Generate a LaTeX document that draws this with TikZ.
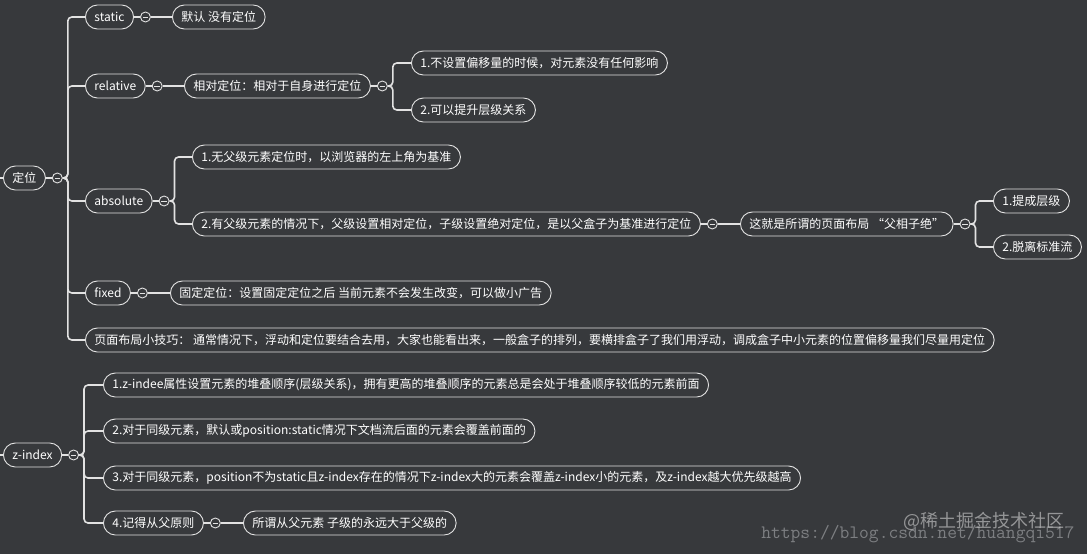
\documentclass[tikz,border=0pt]{standalone}
\usepackage{fontspec}
\setmainfont{Noto Sans CJK SC}
\usetikzlibrary{positioning}

\definecolor{bgdark}{RGB}{55,57,60}
\definecolor{linegrey}{RGB}{226,226,226}
\definecolor{wmgrey}{RGB}{125,127,130}

\tikzset{
  topic/.style={draw=linegrey, line width=0.9pt, rounded corners=12pt,
    minimum height=24pt, inner xsep=9pt, inner ysep=0pt, text=white,
    font=\fontsize{12}{14}\selectfont, anchor=west},
  tog/.style={draw=linegrey, line width=0.9pt, circle, minimum size=10pt,
    inner sep=0pt, path picture={\draw[linegrey, line width=0.9pt]
      ([xshift=2.3pt]path picture bounding box.west) --
      ([xshift=-2.3pt]path picture bounding box.east);}},
  conn/.style={draw=linegrey, line width=1.6pt, rounded corners=4pt},
}

\begin{document}
\begin{tikzpicture}[x=1pt, y=-1pt]
    % background and page size
    \fill[bgdark] (0,0) rectangle (1087,554);
    \useasboundingbox (0,0) rectangle (1087,554);

    % root: positioning
    \node[topic] (dw) at (3,178) {定位};
    \node[tog, right=6pt of dw] (tdw) {};
    \coordinate (dwin) at (0,178);
    \draw[conn] (dwin) -- (dw.west);
    \draw[conn] (dw.east) -- (tdw.west);

    % first level
    \node[topic] (st) at (85,17) {static};
    \node[topic] (rel) at (85,86) {relative};
    \node[topic] (abs) at (85,201) {absolute};
    \node[topic] (fix) at (85,293) {fixed};
    \node[topic] (tip) at (85,340) {页面布局小技巧： 通常情况下，浮动和定位要结合去用，大家也能看出来，一般盒子的排列，要横排盒子了我们用浮动，调成盒子中小元素的位置偏移量我们尽量用定位};
    \foreach \k in {st,rel,abs,fix,tip}
        \draw[conn] (tdw.east) -- ++(5,0) |- (\k.west);

    % static
    \node[tog, right=6pt of st] (tst) {};
    \node[topic] (stdef) at (172,17) {默认 没有定位};
    \draw[conn] (st.east) -- (tst.west);
    \draw[conn] (tst.east) -- (stdef.west);

    % relative
    \node[tog, right=6pt of rel] (trel) {};
    \node[topic] (relm) at (184,86) {相对定位：相对于自身进行定位};
    \draw[conn] (rel.east) -- (trel.west);
    \draw[conn] (trel.east) -- (relm.west);
    \node[tog, right=6pt of relm] (trelm) {};
    \draw[conn] (relm.east) -- (trelm.west);
    \node[topic] (relA) at (411,63) {1.不设置偏移量的时候，对元素没有任何影响};
    \node[topic] (relB) at (411,110) {2.可以提升层级关系};
    \foreach \k in {relA,relB}
        \draw[conn] (trelm.east) -- ++(5,0) |- (\k.west);

    % absolute
    \node[tog, right=6pt of abs] (tabs) {};
    \draw[conn] (abs.east) -- (tabs.west);
    \node[topic] (absA) at (192,157) {1.无父级元素定位时，以浏览器的左上角为基准};
    \node[topic] (absB) at (192,224) {2.有父级元素的情况下，父级设置相对定位，子级设置绝对定位，是以父盒子为基准进行定位};
    \foreach \k in {absA,absB}
        \draw[conn] (tabs.east) -- ++(5,0) |- (\k.west);
    \node[tog, right=6pt of absB] (tabsB) {};
    \draw[conn] (absB.east) -- (tabsB.west);
    \node[topic] (fxz) at (740,224) {这就是所谓的页面布局 “父相子绝”};
    \draw[conn] (tabsB.east) -- (fxz.west);
    \node[tog, right=6pt of fxz] (tfxz) {};
    \draw[conn] (fxz.east) -- (tfxz.west);
    \node[topic] (fxzA) at (993,201) {1.提成层级};
    \node[topic] (fxzB) at (993,247) {2.脱离标准流};
    \foreach \k in {fxzA,fxzB}
        \draw[conn] (tfxz.east) -- ++(5,0) |- (\k.west);

    % fixed
    \node[tog, right=6pt of fix] (tfix) {};
    \node[topic] (fixm) at (170,293) {固定定位：设置固定定位之后 当前元素不会发生改变，可以做小广告};
    \draw[conn] (fix.east) -- (tfix.west);
    \draw[conn] (tfix.east) -- (fixm.west);

    % root: z-index
    \node[topic] (zi) at (3,455) {z-index};
    \node[tog, right=6pt of zi] (tzi) {};
    \coordinate (ziin) at (0,455);
    \draw[conn] (ziin) -- (zi.west);
    \draw[conn] (zi.east) -- (tzi.west);
    \node[topic] (ziA) at (103,385) {1.z-indee属性设置元素的堆叠顺序(层级关系)，拥有更高的堆叠顺序的元素总是会处于堆叠顺序较低的元素前面};
    \node[topic] (ziB) at (103,431) {2.对于同级元素，默认或position:static情况下文档流后面的元素会覆盖前面的};
    \node[topic] (ziC) at (103,478) {3.对于同级元素，position不为static且z-index存在的情况下z-index大的元素会覆盖z-index小的元素，及z-index越大优先级越高};
    \node[topic] (ziD) at (103,523) {4.记得从父原则};
    \foreach \k in {ziA,ziB,ziC,ziD}
        \draw[conn] (tzi.east) -- ++(5,0) |- (\k.west);
    \node[tog, right=6pt of ziD] (tziD) {};
    \node[topic] (ziDm) at (243,523) {所谓从父元素 子级的永远大于父级的};
    \draw[conn] (ziD.east) -- (tziD.west);
    \draw[conn] (tziD.east) -- (ziDm.west);

    % watermark
    \node[anchor=east, text=wmgrey, font=\fontsize{19}{20}\ttfamily] (wmurl) at (1078,534) {https://blog.csdn.net/huangqi517};
    \node[anchor=east, text=linegrey, opacity=0.55, font=\fontsize{18}{20}\selectfont] (wmsite) at (1068,521) {@稀土掘金技术社区};

\end{tikzpicture}
\end{document}
